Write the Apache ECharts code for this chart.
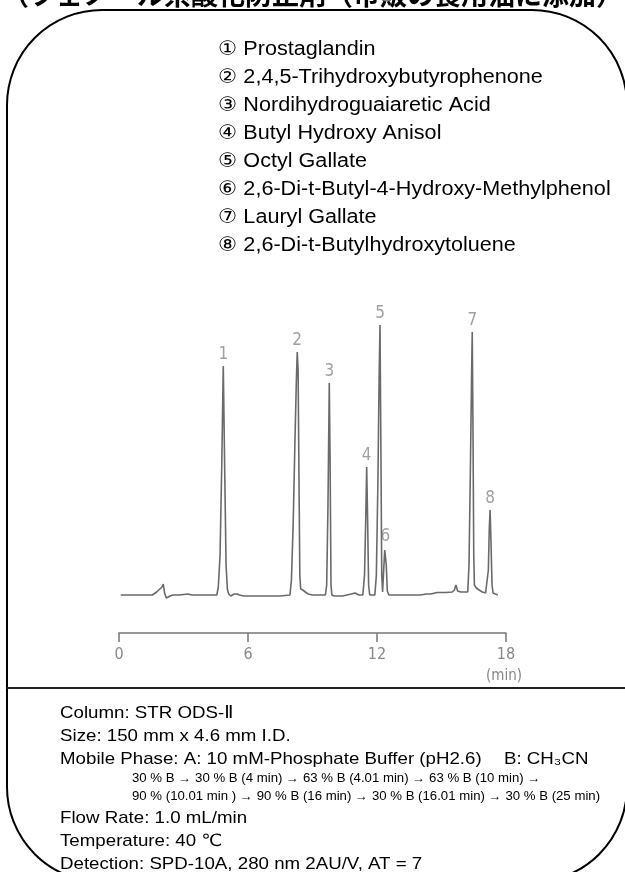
<!DOCTYPE html>
<html>
<head>
<meta charset="utf-8">
<script src="https://cdn.jsdelivr.net/npm/echarts@6/dist/echarts.min.js"></script>
<style>
html, body { margin: 0; padding: 0; background: #fff; }
#main { width: 625px; height: 872px; }
</style>
</head>
<body>
<div id="main"></div>
<script>
// chromatogram trace: retention time (min) / detector signal (arbitrary units)
var traceTime = [
    0.08, 0.5, 1.0, 1.35, 1.44, 1.55, 1.75, 1.9, 2.0, 2.06, 2.12, 2.2, 2.29, 2.38, 2.5,
    2.8, 3.2, 3.4, 4.4,
    4.55, 4.62, 4.7, 4.78, 4.85, 4.92, 4.98, 5.04, 5.1, 5.2, 5.35, 5.5, 5.6, 5.8, 7.0, 7.5,
    7.95, 8.02, 8.1, 8.18, 8.25, 8.29, 8.33, 8.37, 8.41, 8.45, 8.55, 8.67, 8.8, 9.0, 9.3,
    9.6, 9.66, 9.72, 9.78, 9.82, 9.86, 9.9, 10.0, 10.4, 10.6, 10.8, 10.98, 11.05, 11.15,
    11.34, 11.42, 11.48, 11.52, 11.56, 11.61, 11.66, 11.75, 11.9,
    11.97, 12.04, 12.1, 12.14, 12.18, 12.22, 12.26, 12.31, 12.36, 12.39, 12.43, 12.48, 12.55,
    13.0, 13.5, 14.0, 14.3, 14.5, 14.8, 15.2, 15.5, 15.6, 15.67, 15.75, 15.9, 16.1,
    16.22, 16.28, 16.34, 16.4, 16.43, 16.46, 16.5, 16.53, 16.62, 16.75, 16.9, 17.05,
    17.12, 17.18, 17.22, 17.26, 17.3, 17.35, 17.4, 17.5, 17.62
];
var traceSignal = [
    0, 0, 0, 0, -2, 0, 3, 6, 8, 11, 2, -3, -5, -1, 0,
    0, 1, 0, 0,
    0, 8, 40, 130, 229, 120, 30, 6, 1, -1, 1, 1, 0, -1, -1, -1,
    0, 15, 70, 150, 215, 243, 225, 120, 20, 6, 5, 3, 1, 0, 0,
    0, 10, 90, 212, 130, 10, 0, -1, -1, 0, 1, 2, 0, 0,
    0, 20, 80, 128, 80, 10, 0, 0, 0,
    20, 110, 220, 270, 150, 20, 3, 25, 45, 47, 30, 4, 0,
    0, 0, 0, 1, 1, 2.5, 2.5, 3, 5, 10, 4, 3, 3,
    3, 30, 120, 220, 263, 180, 40, 10, 7, 5, 3, 2,
    1, 25, 65, 85, 55, 10, 2, 1, 0
];

var peakNames = ['1', '2', '3', '4', '5', '6', '7', '8'];
var peakTime = [4.85, 8.29, 9.78, 11.52, 12.14, 12.39, 16.43, 17.26];
var peakHeight = [229, 243, 212, 128, 270, 47, 263, 85];

var compoundNames = [
    '① Prostaglandin',
    '② 2,4,5-Trihydroxybutyrophenone',
    '③ Nordihydroguaiaretic Acid',
    '④ Butyl Hydroxy Anisol',
    '⑤ Octyl Gallate',
    '⑥ 2,6-Di-t-Butyl-4-Hydroxy-Methylphenol',
    '⑦ Lauryl Gallate',
    '⑧ 2,6-Di-t-Butylhydroxytoluene'
];

var xTicks = [0, 6, 12, 18];

var conditionLines = [
    'Column: STR ODS-Ⅱ',
    'Size: 150 mm x 4.6 mm I.D.',
    'Mobile Phase: A: 10 mM-Phosphate Buffer (pH2.6)'
];
var gradientLines = [
    '30 % B → 30 % B (4 min) → 63 % B (4.01 min) → 63 % B (10 min) →',
    '90 % (10.01 min ) → 90 % B (16 min) → 30 % B (16.01 min) → 30 % B (25 min)'
];
var moreLines = [
    'Flow Rate: 1.0 mL/min',
    'Temperature: 40 ℃',
    'Detection: SPD-10A, 280 nm 2AU/V, AT = 7'
];

var titleText = '（フェノール系酸化防止剤（市販の食用油に添加）';

var traceData = traceTime.map(function (t, i) {
    return [t, traceSignal[i]];
});
var peakData = peakTime.map(function (t, i) {
    return { value: [t, peakHeight[i]], name: peakNames[i] };
});

var narrowFont = '"Liberation Sans Narrow", "DejaVu Sans Condensed", "Liberation Sans", sans-serif';
var textFont = '"Liberation Sans", Arial, "DejaVu Sans", sans-serif';

var graphics = [
    // title, cut off at the top edge
    {
        type: 'text', left: 2, top: -19, silent: true,
        style: { text: titleText, fontSize: 27, fontWeight: 'bold', fill: '#000',
            fontFamily: '"Noto Sans CJK JP", sans-serif' }
    },
    // rounded frame
    {
        type: 'rect', silent: true,
        shape: { x: 7, y: 10, width: 620, height: 872, r: 95 },
        style: { fill: 'none', stroke: '#000', lineWidth: 2 }
    },
    // divider
    {
        type: 'line', silent: true,
        shape: { x1: 7, y1: 688, x2: 625, y2: 688 },
        style: { stroke: '#222', lineWidth: 2 }
    },
    {
        type: 'text', x: 486, y: 676, silent: true,
        style: { text: '(min)', fontSize: 15, fill: '#888', fontFamily: narrowFont,
            verticalAlign: 'middle' }
    }
];

compoundNames.forEach(function (s, i) {
    graphics.push({
        type: 'text', x: 218, y: 49 + i * 28, scaleX: 1.08, silent: true,
        style: { text: s, fontSize: 20, fill: '#000', fontFamily: textFont, verticalAlign: 'middle' }
    });
});

conditionLines.forEach(function (s, i) {
    graphics.push({
        type: 'text', x: 60, y: 713 + i * 23, scaleX: 1.1, silent: true,
        style: { text: s, fontSize: 17, fill: '#000', fontFamily: textFont, verticalAlign: 'middle' }
    });
});
graphics.push({
    type: 'text', x: 504, y: 759, scaleX: 1.1, silent: true,
    style: { text: 'B: CH₃CN', fontSize: 17, fill: '#000', fontFamily: textFont, verticalAlign: 'middle' }
});
gradientLines.forEach(function (s, i) {
    graphics.push({
        type: 'text', x: 132, y: 779 + i * 18, scaleX: 1.1, silent: true,
        style: { text: s, fontSize: 12, fill: '#000', fontFamily: textFont, verticalAlign: 'middle' }
    });
});
moreLines.forEach(function (s, i) {
    graphics.push({
        type: 'text', x: 60, y: 818 + i * 23, scaleX: 1.1, silent: true,
        style: { text: s, fontSize: 17, fill: '#000', fontFamily: textFont, verticalAlign: 'middle' }
    });
});

var option = {
    animation: false,
    backgroundColor: '#fff',
    grid: {
        left: 119,
        right: 119,
        top: 295,
        height: 338
    },
    xAxis: {
        type: 'value',
        min: xTicks[0],
        max: xTicks[xTicks.length - 1],
        interval: 6,
        axisLine: { onZero: false, lineStyle: { color: '#777', width: 1.5 } },
        axisTick: { length: 9, lineStyle: { color: '#777', width: 1.5 } },
        axisLabel: { color: '#888', fontSize: 16, margin: 14, fontFamily: narrowFont },
        splitLine: { show: false }
    },
    yAxis: {
        type: 'value',
        min: -38,
        max: 300,
        show: false
    },
    series: [
        {
            name: 'signal',
            type: 'line',
            data: traceData,
            showSymbol: false,
            symbol: 'none',
            lineStyle: { color: '#6a6a6a', width: 1.6 }
        },
        {
            name: 'peaks',
            type: 'scatter',
            data: peakData,
            symbolSize: 0,
            label: {
                show: true,
                position: 'top',
                distance: 3,
                formatter: '{b}',
                color: '#888',
                fontSize: 17,
                fontFamily: narrowFont
            }
        }
    ],
    graphic: graphics
};

var myChart = echarts.init(document.getElementById('main'));
myChart.setOption(option);
</script>
</body>
</html>
